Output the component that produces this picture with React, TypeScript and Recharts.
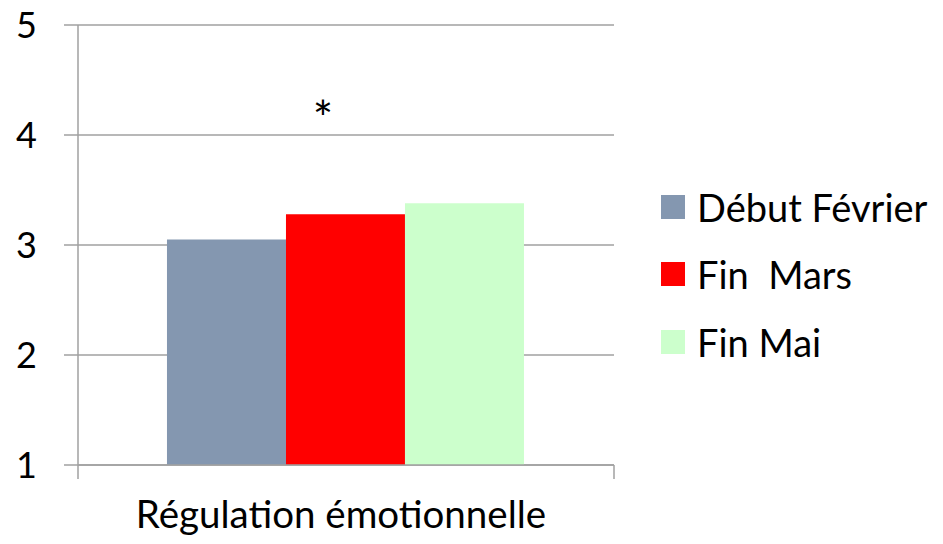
import { BarChart, Bar, XAxis, YAxis, CartesianGrid, Legend, ReferenceDot, ReferenceLine } from 'recharts';

const categories = ['Régulation émotionnelle'];
const debutFevrier = [3.05];
const finMars = [3.28];
const finMai = [3.38];
const yTicks = [1, 2, 3, 4, 5];
const seriesNames = ['Début Février', 'Fin  Mars', 'Fin Mai'];
const seriesColors = ['#8497B0', '#FF0000', '#CCFFCC'];
const significance = { category: categories[0], value: 4.15, mark: '*' };
// category boundary ticks below the axis (Excel style)
const edgePositions: ('start' | 'end')[] = ['start', 'end'];
const edgeTickBottom = 0.873;

const chartData = categories.map((name, i) => ({
    name,
    debut: debutFevrier[i],
    mars: finMars[i],
    mai: finMai[i],
}));

const FONT = 'Lato, "Noto Sans", sans-serif';
const GRID = '#A0A0A0';

function LegendBox() {
    return (
        <div style={{ fontFamily: FONT, fontSize: 38, color: '#000', width: 300 }}>
            {seriesNames.map((n, i) => (
                <div key={n} style={{ display: 'flex', alignItems: 'center', height: 67.5, whiteSpace: 'pre' }}>
                    <span style={{ display: 'inline-block', flexShrink: 0, width: 24, height: 24, background: seriesColors[i], marginRight: 12 }} />
                    <span>{n}</span>
                </div>
            ))}
        </div>
    );
}

export default function App() {
    return (
        <div style={{ position: 'absolute', left: 0, top: 0, width: 943, height: 544, background: '#fff' }}>
            <BarChart
                width={943}
                height={544}
                data={chartData}
                margin={{ top: 25, right: 329, bottom: 0, left: 0 }}
                barCategoryGap="16.6%"
                barGap={0}
            >
                <CartesianGrid vertical={false} stroke={GRID} strokeWidth={1.5} />
                <XAxis
                    dataKey="name"
                    height={79}
                    stroke={GRID}
                    strokeWidth={1.5}
                    tickLine={false}
                    tickSize={0}
                    tickMargin={36}
                    tick={{ fill: '#000', fontSize: 38.5, fontFamily: FONT, dx: -5 }}
                />
                <YAxis
                    width={78}
                    domain={[1, 5]}
                    ticks={yTicks}
                    allowDataOverflow
                    tickSize={14}
                    tickMargin={27}
                    stroke={GRID}
                    strokeWidth={1.5}
                    tickLine={{ stroke: GRID, strokeWidth: 1.5 }}
                    tick={{ fill: '#000', fontSize: 36, fontFamily: FONT }}
                />
                <Legend
                    layout="vertical"
                    align="right"
                    verticalAlign="top"
                    content={() => <LegendBox />}
                    wrapperStyle={{ position: 'absolute', left: 661, top: 173, width: 0, height: 0, overflow: 'visible' }}
                />
                <Bar dataKey="debut" name={seriesNames[0]} fill={seriesColors[0]} isAnimationActive={false} />
                <Bar dataKey="mars" name={seriesNames[1]} fill={seriesColors[1]} isAnimationActive={false} />
                <Bar dataKey="mai" name={seriesNames[2]} fill={seriesColors[2]} isAnimationActive={false} />
                {edgePositions.map((p) => (
                    <ReferenceLine
                        key={p}
                        position={p}
                        segment={[
                            { x: categories[0], y: yTicks[0] },
                            { x: categories[0], y: edgeTickBottom },
                        ]}
                        ifOverflow="visible"
                        stroke={GRID}
                        strokeWidth={1.5}
                    />
                ))}
                <ReferenceDot
                    x={significance.category}
                    y={significance.value}
                    r={0}
                    stroke="none"
                    label={{ value: significance.mark, position: 'center', dx: -23, fontSize: 48, fill: '#000', fontFamily: FONT }}
                />
            </BarChart>
        </div>
    );
}
